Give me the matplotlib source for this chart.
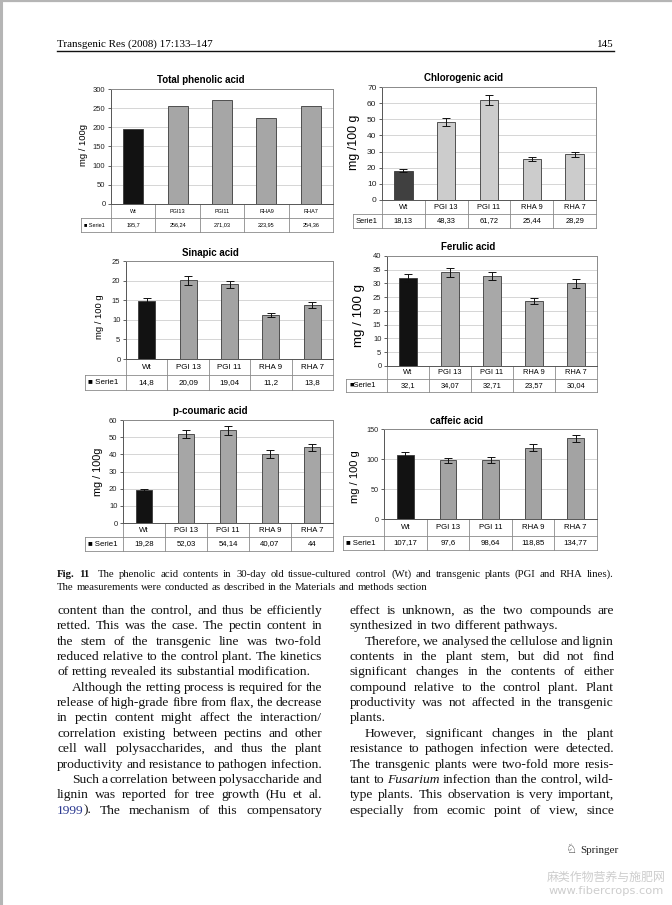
import numpy as np
import matplotlib
matplotlib.use("Agg")
import matplotlib.pyplot as plt

W, H = 672, 905
fig = plt.figure(figsize=(W / 100, H / 100), dpi=100)

# full-page overlay in pixel coordinates for the page text and table lines
page = fig.add_axes([0, 0, 1, 1], zorder=0)
page.set_xlim(0, W)
page.set_ylim(H, 0)
page.axis("off")

# data
lines_sp = ["Wt", "PGI 13", "PGI 11", "RHA 9", "RHA 7"]
lines_nosp = ["Wt", "PGI13", "PGI11", "RHA9", "RHA7"]

total = [195.7, 256.24, 271.03, 223.95, 254.36]

chloro = [18.13, 48.33, 61.72, 25.44, 28.29]
chloro_err = [0.9, 2.4, 3.1, 1.3, 1.4]

sinapic = [14.8, 20.09, 19.04, 11.2, 13.8]
sinapic_err = [0.7, 1.1, 0.9, 0.5, 0.7]

ferulic = [32.1, 34.07, 32.71, 23.57, 30.04]
ferulic_err = [1.5, 1.7, 1.6, 1.2, 1.5]

coumaric = [19.28, 52.03, 54.14, 40.07, 44]
coumaric_err = [0.6, 2.3, 2.6, 2.2, 2.0]

caffeic = [107.17, 97.6, 98.64, 118.85, 134.77]
caffeic_err = [5.0, 4.0, 5.0, 6.0, 6.0]

SANS = "Liberation Sans"
SERIF = "Liberation Serif"


def fmt(v):
    return f"{v:g}".replace(".", ",")


def panel(vals, errs, cats, title, ylabel, ymax, ystep, geo, sty):
    left, top, right, zero, row1, row2, sleft = geo["box"]
    ax = fig.add_axes([left / W, 1 - zero / H, (right - left) / W, (zero - top) / H], zorder=2)
    x = np.arange(len(vals))
    cols = [sty["wt"]] + [sty["bar"]] * (len(vals) - 1)
    ax.bar(x, vals, width=sty["bw"], color=cols, edgecolor="#3a3a3a", linewidth=0.6, zorder=3)
    if errs is not None:
        ax.errorbar(x, vals, yerr=errs, fmt="none", ecolor="#111111", elinewidth=0.7,
                    capsize=2.6, capthick=0.7, zorder=4)
    ax.set_xlim(-0.5, len(vals) - 0.5)
    ax.set_ylim(0, ymax)
    ax.set_yticks(np.arange(0, ymax + 0.1, ystep))
    ax.set_xticks([])
    ax.yaxis.grid(True, color="#cfcfcf", linewidth=0.6)
    ax.set_axisbelow(True)
    ax.tick_params(axis="y", labelsize=sty["tick"], length=2.5, width=0.5, pad=1.5, colors="#222222")
    for tl in ax.get_yticklabels():
        tl.set_family(SANS)
    for s in ax.spines.values():
        s.set_color("#8a8a8a")
        s.set_linewidth(0.7)
    ax.spines["left"].set_color("#555555")
    ax.spines["bottom"].set_color("#555555")

    # title and y label
    tx, ty = geo["title"]
    page.text(tx, ty, title, ha="center", va="center", fontsize=7, fontweight="bold", family=SANS)
    lx, ly = geo["ylab"]
    page.text(lx, ly, ylabel, ha="center", va="center", rotation=90, fontsize=sty["ylab"], family=SANS)

    # data table under the plot
    lc = "#8a8a8a"
    n = len(vals)
    step = (right - left) / n
    page.plot([left, right], [row1, row1], color=lc, lw=0.6)
    page.plot([sleft, right], [row2, row2], color=lc, lw=0.6)
    page.plot([sleft, left], [row1, row1], color=lc, lw=0.6)
    page.plot([sleft, sleft], [row1, row2], color=lc, lw=0.6)
    for i in range(n + 1):
        xx = left + i * step
        page.plot([xx, xx], [zero, row2], color=lc, lw=0.6)
    tfs = sty["table"]
    for i in range(n):
        cx = left + (i + 0.5) * step
        page.text(cx, (zero + row1) / 2, cats[i], ha="center", va="center", fontsize=tfs, family=SANS)
        page.text(cx, (row1 + row2) / 2, fmt(vals[i]), ha="center", va="center", fontsize=tfs, family=SANS)
    key = sty.get("key", "\u25a0 ")
    page.text(sleft + 3, (row1 + row2) / 2, key + "Serie1", ha="left", va="center",
              fontsize=tfs, family=SANS)
    return ax


panel(total, None, lines_nosp, "Total phenolic acid", "mg / 100g", 300, 50,
      dict(box=(111, 89, 333, 204, 218, 232, 81), title=(201, 80), ylab=(83, 145)),
      dict(wt="#121212", bar="#a6a6a6", bw=0.45, tick=5.5, ylab=6.8, table=4.0))
panel(chloro, chloro_err, lines_sp, "Chlorogenic acid", "mg /100 g", 70, 10,
      dict(box=(382, 87, 596, 200, 214, 228, 353), title=(463, 78), ylab=(354, 142)),
      dict(wt="#404040", bar="#cccccc", bw=0.43, tick=6.0, ylab=8.9, table=5.4, key=""))
panel(sinapic, sinapic_err, lines_sp, "Sinapic acid", "mg / 100 g", 25, 5,
      dict(box=(126, 261, 333, 359, 375, 390, 85), title=(210, 253), ylab=(100, 317)),
      dict(wt="#121212", bar="#a3a3a3", bw=0.41, tick=5.5, ylab=6.8, table=5.8))
panel(ferulic, ferulic_err, lines_sp, "Ferulic acid", "mg / 100 g", 40, 5,
      dict(box=(387, 256, 597, 366, 379, 392, 346), title=(468, 247), ylab=(359, 315)),
      dict(wt="#121212", bar="#a8a8a8", bw=0.42, tick=5.5, ylab=9.6, table=5.4, key="\u25a0"))
panel(coumaric, coumaric_err, lines_sp, "p-coumaric acid", "mg / 100g", 60, 10,
      dict(box=(123, 420, 333, 523, 537, 551, 85), title=(210, 411), ylab=(98, 472)),
      dict(wt="#121212", bar="#a6a6a6", bw=0.39, tick=5.5, ylab=7.8, table=5.6))
panel(caffeic, caffeic_err, lines_sp, "caffeic acid", "mg / 100 g", 150, 50,
      dict(box=(384, 429, 597, 519, 536, 550, 343), title=(457, 421), ylab=(355, 477)),
      dict(wt="#121212", bar="#a3a3a3", bw=0.39, tick=5.2, ylab=8.0, table=5.6))

# page text
renderer = fig.canvas.get_renderer()


def pieces(word):
    out = []
    for p in word.split("|"):
        kw = {}
        if p.startswith("*"):
            p, kw = p[1:], {"style": "italic"}
        elif p.startswith("#"):
            p, kw = p[1:], {"color": "#2b3990"}
        elif p.startswith("!"):
            p, kw = p[1:], {"fontweight": "bold"}
        out.append((p, kw))
    return out


def put_line(x0, x1, y, text, size, justify):
    indent = 0
    if text.startswith("\t"):
        indent = 15
        text = text[1:]
    words = text.split(" ")
    arts = []
    widths = []
    for w in words:
        group = []
        for p, kw in pieces(w):
            t = page.text(0, y, p, fontsize=size, family=SERIF, va="baseline", ha="left",
                          color=kw.pop("color", "#111111"), **kw)
            bb = t.get_window_extent(renderer)
            group.append((t, bb.width))
        arts.append(group)
        widths.append(sum(g[1] for g in group))
    space = page.text(0, y, "a a", fontsize=size, family=SERIF).get_window_extent(renderer).width - \
        2 * page.text(0, y, "a", fontsize=size, family=SERIF).get_window_extent(renderer).width
    for t in page.texts[-2:]:
        t.remove()
    start = x0 + indent
    if justify and len(words) > 1:
        gap = (x1 - start - sum(widths)) / (len(words) - 1)
    else:
        gap = space
    xx = start
    for group, wd in zip(arts, widths):
        px = xx
        for t, w in group:
            t.set_x(px)
            px += w
        xx += wd + gap


left_col = [
    ("content than the control, and thus be efficiently", True),
    ("retted. This was the case. The pectin content in", True),
    ("the stem of the transgenic line was two-fold", True),
    ("reduced relative to the control plant. The kinetics", True),
    ("of retting revealed its substantial modification.", False),
    ("\tAlthough the retting process is required for the", True),
    ("release of high-grade fibre from flax, the decrease", True),
    ("in pectin content might affect the interaction/", True),
    ("correlation existing between pectins and other", True),
    ("cell wall polysaccharides, and thus the plant", True),
    ("productivity and resistance to pathogen infection.", True),
    ("\tSuch a correlation between polysaccharide and", True),
    ("lignin was reported for tree growth (Hu et al.", True),
    ("#1999|). The mechanism of this compensatory", True),
]
right_col = [
    ("effect is unknown, as the two compounds are", True),
    ("synthesized in two different pathways.", False),
    ("\tTherefore, we analysed the cellulose and lignin", True),
    ("contents in the plant stem, but did not find", True),
    ("significant changes in the contents of either", True),
    ("compound relative to the control plant. Plant", True),
    ("productivity was not affected in the transgenic", True),
    ("plants.", False),
    ("\tHowever, significant changes in the plant", True),
    ("resistance to pathogen infection were detected.", True),
    ("The transgenic plants were two-fold more resis-", True),
    ("tant to *Fusarium infection than the control, wild-", True),
    ("type plants. This observation is very important,", True),
    ("especially from ecomic point of view, since", True),
]

lead = 15.35
for i, (txt, j) in enumerate(left_col):
    put_line(57, 322, 614 + i * lead, txt, 9.7, j)
for i, (txt, j) in enumerate(right_col):
    put_line(350, 614, 614 + i * lead, txt, 9.7, j)

put_line(57, 614, 577, "!Fig. !11  The phenolic acid contents in 30-day old tissue-cultured control (Wt) "
         "and transgenic plants (PGI and RHA lines).", 7.75, True)
put_line(57, 614, 590, "The measurements were conducted as described in the Materials and methods section",
         7.75, False)

# running head
page.text(57, 47, "Transgenic Res (2008) 17:133\u2013147", fontsize=7.9, family=SERIF, va="baseline")
page.text(614, 47, "145", fontsize=7.9, family=SERIF, va="baseline", ha="right")
page.plot([57, 614], [51.5, 51.5], color="#111111", lw=1.0)

# footer logo and watermark
page.text(577, 853, "\u2658", fontsize=9, family="DejaVu Sans", ha="right", va="baseline", color="#333333")
page.text(580, 853, "Springer", fontsize=7.9, family=SERIF, va="baseline", color="#222222")
page.text(606, 877, "麻类作物营养与施肥网", fontsize=8.6, family=["Noto Sans CJK SC", "DejaVu Sans"],
          ha="center", va="center", color="#cdcdcd")
page.text(606, 891, "www.fibercrops.com", fontsize=8.2, family="DejaVu Sans",
          ha="center", va="center", color="#cdcdcd")

# scan border
page.plot([0, W], [0.8, 0.8], color="#b5b5b5", lw=1.6)
page.plot([1.2, 1.2], [0, H], color="#b5b5b5", lw=2.2)

fig.savefig("out.png", dpi=100)
